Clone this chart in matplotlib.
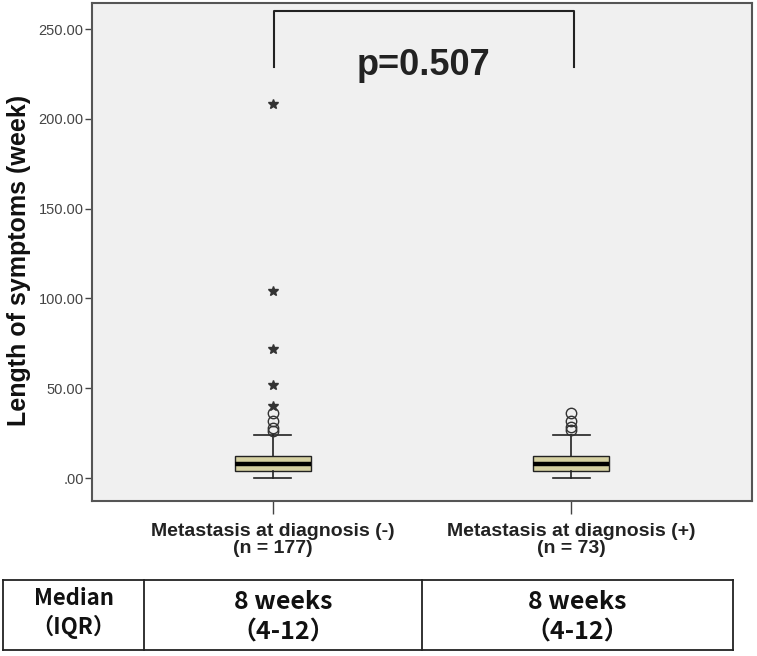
import matplotlib.pyplot as plt
from matplotlib.ticker import FuncFormatter

# box summary values (weeks)
groups = ['Metastasis at diagnosis (-)\n(n = 177)', 'Metastasis at diagnosis (+)\n(n = 73)']
q1 = [4, 4]
median = [8, 8]
q3 = [12, 12]
whisker_lo = [0, 0]
whisker_hi = [24, 24]
outliers = [[26, 28, 32, 36], [26.5, 28.5, 32, 36]]
extremes = [[40, 52, 72, 104, 208], []]

p_text = 'p=0.507'
table_head = 'Median\n（IQR）'
table_cells = ['8 weeks\n（4-12）', '8 weeks\n（4-12）']

yticks = [0, 50, 100, 150, 200, 250]

box_color = '#d5d0a1'
bg = '#f0f0f0'
edge = '#555555'

fig = plt.figure(figsize=(7.57, 6.56), dpi=100)
ax = fig.add_axes([92 / 757, 1 - 501 / 656, 660 / 757, 498 / 656])
ax.set_facecolor(bg)

stats = []
for i in range(len(groups)):
    stats.append({
        'med': median[i], 'q1': q1[i], 'q3': q3[i],
        'whislo': whisker_lo[i], 'whishi': whisker_hi[i], 'fliers': [],
    })

ax.bxp(stats, positions=[1, 2], widths=0.254, patch_artist=True,
       showfliers=False,
       boxprops=dict(facecolor=box_color, edgecolor='#222222', linewidth=1.0),
       medianprops=dict(color='black', linewidth=3.2),
       whiskerprops=dict(color='#222222', linewidth=1.2),
       capprops=dict(color='#222222', linewidth=1.2),
       capwidths=0.124)

for i, vals in enumerate(outliers):
    ax.plot([i + 1] * len(vals), vals, 'o', ms=7.5, mfc='none', mec='#333333', mew=1.0)
for i, vals in enumerate(extremes):
    if vals:
        ax.plot([i + 1] * len(vals), vals, '*', ms=7, color='#333333')

# significance bracket
ax.plot([1.005, 1.005, 2.01, 2.01], [229, 260, 260, 229], color='#222222', lw=1.5)
ax.text(1.505, 220, p_text, ha='center', va='bottom', fontsize=26,
        fontweight='bold', family=['Liberation Sans', 'DejaVu Sans'], color='#222222')

ax.set_xlim(0.393, 2.607)
ax.set_ylim(-12.8, 264.5)
ax.set_yticks(yticks)
ax.yaxis.set_major_formatter(FuncFormatter(lambda v, p: ('%.2f' % v) if v else '.00'))
ax.set_xticks([1, 2])
ax.set_xticklabels(groups, fontsize=14, fontweight='bold',
                   family='Liberation Sans', linespacing=1.0, color='#222222')
ax.tick_params(axis='y', direction='out', length=5, width=1, color='#444444',
               labelsize=10.5, labelcolor='#444444', pad=1)
ax.tick_params(axis='x', direction='out', length=9, width=1, color='#444444', pad=7)
for lbl in ax.get_yticklabels():
    lbl.set_family('Liberation Sans')
for s in ax.spines.values():
    s.set_color(edge)
    s.set_linewidth(1.5)

ax.set_ylabel('Length of symptoms (week)', fontsize=18, fontweight='bold',
              family='Liberation Sans', color='#111111')
ax.yaxis.set_label_coords(-0.0924, 0.484)

# table under the chart
tb = fig.add_axes([3 / 757, 1 - 650 / 656, 730 / 757, 70 / 656])
tb.set_xlim(3, 733)
tb.set_ylim(650, 580)
tb.axis('off')
for x in [3, 144, 422, 733]:
    tb.plot([x, x], [580, 650], color='#222222', lw=1.3, clip_on=False)
for y in [580, 650]:
    tb.plot([3, 733], [y, y], color='#222222', lw=1.3, clip_on=False)

cjk = ['Noto Sans CJK JP', 'DejaVu Sans']
tb.text(73.5, 613, table_head, ha='center', va='center', fontsize=16,
        fontweight='bold', family=cjk, linespacing=1.25, color='#111111')
for cx, txt in zip([283, 577.5], table_cells):
    tb.text(cx, 617, txt, ha='center', va='center', fontsize=18,
            fontweight='bold', family=cjk, linespacing=1.35, color='#111111')

fig.savefig('out.png', dpi=100, facecolor='white')
